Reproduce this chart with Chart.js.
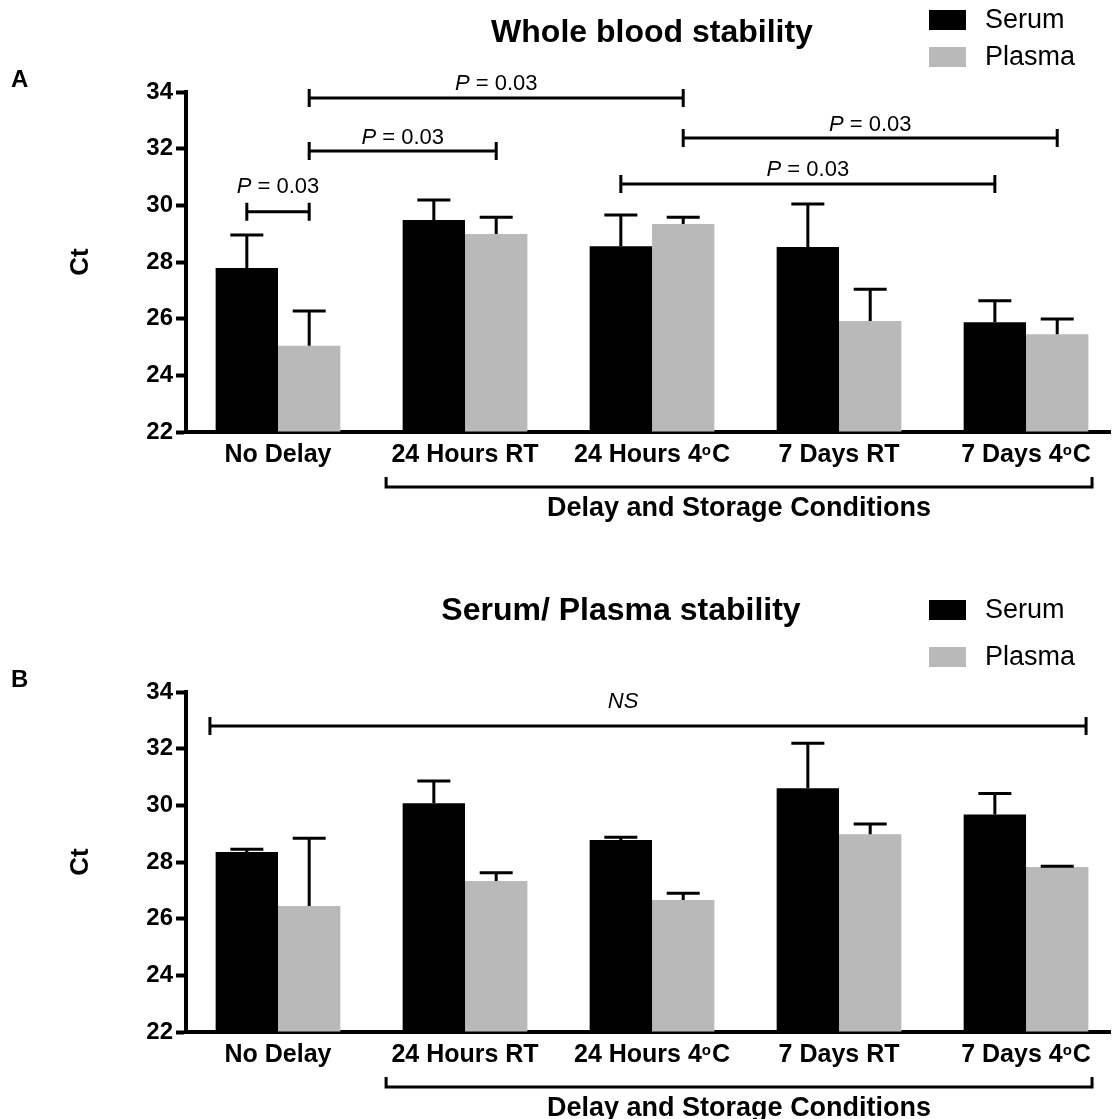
<!DOCTYPE html>
<html>
<head>
<meta charset="utf-8">
<title>Whole blood / serum-plasma stability</title>
<script src="https://cdn.jsdelivr.net/npm/chart.js@4.4.1/dist/chart.umd.min.js"></script>
<style>
  html, body { margin: 0; padding: 0; background: #fff; }
  canvas { position: absolute; left: 0; width: 1112px; }
  #panelA { top: 0; height: 560px; }
  #panelB { top: 570px; height: 549px; }
</style>
</head>
<body>
<canvas id="panelA" width="1112" height="560"></canvas>
<canvas id="panelB" width="1112" height="549"></canvas>
<script>
const CATEGORIES = ["No Delay", "24 Hours RT", "24 Hours 4°C", "7 Days RT", "7 Days 4°C"];
const SERIES = ["Serum", "Plasma"];
const Y_TICKS = [22, 24, 26, 28, 30, 32, 34];

// A: whole blood stability (mean Ct and upper error)
const WB_SERUM = [27.79, 29.48, 28.56, 28.53, 25.87];
const WB_SERUM_ERR = [1.16, 0.71, 1.10, 1.52, 0.76];
const WB_PLASMA = [25.04, 28.99, 29.34, 25.92, 25.45];
const WB_PLASMA_ERR = [1.23, 0.59, 0.24, 1.12, 0.54];

// B: serum / plasma stability
const SP_SERUM = [28.35, 30.07, 28.78, 30.60, 29.68];
const SP_SERUM_ERR = [0.10, 0.79, 0.09, 1.59, 0.74];
const SP_PLASMA = [26.45, 27.33, 26.66, 28.98, 27.82];
const SP_PLASMA_ERR = [2.39, 0.29, 0.24, 0.36, 0.03];

// comparison brackets: ends are [category, series] or an x value
const WB_BRACKETS = [
  { from: [0, 0], to: [0, 1], y: 29.77, text: "P", value: " = 0.03", gap: 19 },
  { from: [0, 1], to: [1, 1], y: 31.92, text: "P", value: " = 0.03", gap: 7 },
  { from: [0, 1], to: [2, 1], y: 33.79, text: "P", value: " = 0.03", gap: 8 },
  { from: [2, 1], to: [4, 1], y: 32.38, text: "P", value: " = 0.03", gap: 7 },
  { from: [2, 0], to: [4, 0], y: 30.75, text: "P", value: " = 0.03", gap: 8 },
];
const SP_BRACKETS = [
  { from: -0.364, to: 4.321, y: 32.8, text: "NS", value: "", gap: 18, textX: 1.845 },
];

const FONT = "'Liberation Sans', Arial, Helvetica, sans-serif";
const GREY = "#b9b9b9";

function font(size, weight, style) {
  return (style || "normal") + " " + (weight || "normal") + " " + size + "px " + FONT;
}

// label with the degree sign shown as a raised "o"
function drawTickLabel(ctx, text, cx, base) {
  const main = font(25, "bold"), sup = font(15, "bold");
  const parts = text.split("°");
  ctx.font = main;
  let w = ctx.measureText(parts[0]).width;
  let ws = 0, w2 = 0;
  if (parts.length > 1) {
    ctx.font = sup; ws = ctx.measureText("o").width + 1;
    ctx.font = main; w2 = ctx.measureText(parts[1]).width;
  }
  let x = cx - (w + ws + w2) / 2;
  ctx.textAlign = "left";
  ctx.textBaseline = "alphabetic";
  ctx.font = main; ctx.fillText(parts[0], x, base);
  if (parts.length > 1) {
    x += w;
    ctx.font = sup; ctx.fillText("o", x, base - 7);
    x += ws;
    ctx.font = main; ctx.fillText(parts[1], x, base);
  }
}

const decor = {
  id: "decor",
  afterDatasetsDraw(chart) {
    const ctx = chart.ctx, y = chart.scales.y;
    ctx.save();
    ctx.strokeStyle = "#000";
    ctx.lineWidth = 3;
    chart.data.datasets.forEach((ds, di) => {
      chart.getDatasetMeta(di).data.forEach((bar, i) => {
        const top = y.getPixelForValue(ds.data[i].y + ds.err[i]);
        ctx.beginPath();
        ctx.moveTo(bar.x, bar.y);
        ctx.lineTo(bar.x, top);
        ctx.moveTo(bar.x - 16.5, top);
        ctx.lineTo(bar.x + 16.5, top);
        ctx.stroke();
      });
    });
    ctx.restore();
  },
  afterDraw(chart, args, opts) {
    const ctx = chart.ctx, xs = chart.scales.x, ys = chart.scales.y;
    const dy = opts.dy;
    const px = (end) => Array.isArray(end)
      ? chart.getDatasetMeta(end[1]).data[end[0]].x
      : xs.getPixelForValue(end);
    ctx.save();
    ctx.fillStyle = "#000";
    ctx.strokeStyle = "#000";

    // panel letter, title, y title
    ctx.font = font(24, "bold");
    ctx.textAlign = "left";
    ctx.fillText(opts.letter, 11, 87 + dy);
    ctx.font = font(32, "bold");
    ctx.textAlign = "center";
    ctx.fillText(opts.title, opts.titleX, opts.titleY + dy);
    ctx.save();
    ctx.translate(81, 262 + dy);
    ctx.rotate(-Math.PI / 2);
    ctx.font = font(26, "bold");
    ctx.textBaseline = "middle";
    ctx.fillText("Ct", 0, 0);
    ctx.restore();

    // legend
    ctx.textBaseline = "middle";
    ctx.textAlign = "left";
    ctx.font = font(27);
    chart.data.datasets.forEach((ds, i) => {
      const top = opts.legendTop[i] + dy;
      ctx.fillStyle = ds.backgroundColor;
      ctx.fillRect(929, top, 37, 20);
      ctx.fillStyle = "#000";
      ctx.fillText(ds.label, 985, top + 11);
    });

    // category labels
    CATEGORIES.forEach((c, i) => drawTickLabel(ctx, c, xs.getPixelForValue(i), 462 + dy));

    // group bracket under the axis
    const gl = xs.getPixelForValue(0.578), gr = xs.getPixelForValue(4.353);
    ctx.lineWidth = 3;
    ctx.beginPath();
    ctx.moveTo(gl, 477 + dy); ctx.lineTo(gl, 487 + dy); ctx.lineTo(gr, 487 + dy); ctx.lineTo(gr, 477 + dy);
    ctx.stroke();
    ctx.font = font(27, "bold");
    ctx.textAlign = "center";
    ctx.textBaseline = "alphabetic";
    ctx.fillText("Delay and Storage Conditions", (gl + gr) / 2, 516 + dy);

    // comparison brackets
    opts.brackets.forEach(b => {
      const x1 = px(b.from), x2 = px(b.to), yy = ys.getPixelForValue(b.y);
      ctx.beginPath();
      ctx.moveTo(x1, yy - 9); ctx.lineTo(x1, yy + 9);
      ctx.moveTo(x1, yy); ctx.lineTo(x2, yy);
      ctx.moveTo(x2, yy - 9); ctx.lineTo(x2, yy + 9);
      ctx.stroke();
      const cx = b.textX !== undefined ? xs.getPixelForValue(b.textX) : (x1 + x2) / 2;
      ctx.font = font(22, "normal", "italic");
      const w1 = ctx.measureText(b.text).width;
      ctx.font = font(22);
      const w2 = ctx.measureText(b.value).width;
      const sx = cx - (w1 + w2) / 2;
      ctx.textAlign = "left";
      ctx.font = font(22, "normal", "italic");
      ctx.fillText(b.text, sx, yy - b.gap);
      ctx.font = font(22);
      ctx.fillText(b.value, sx + w1, yy - b.gap);
    });
    ctx.restore();
  },
};

function panel(id, serum, serumErr, plasma, plasmaErr, extra) {
  const pts = (arr) => arr.map((v, i) => ({ x: i, y: v }));
  const canvas = document.getElementById(id);
  const axisH = canvas.height - (432 + extra.dy);
  return new Chart(canvas, {
    type: "bar",
    data: {
      datasets: [
        { label: SERIES[0], data: pts(serum), err: serumErr, backgroundColor: "#000000" },
        { label: SERIES[1], data: pts(plasma), err: plasmaErr, backgroundColor: GREY },
      ],
    },
    options: {
      responsive: false,
      animation: false,
      datasets: { bar: { base: 22, categoryPercentage: 0.667, barPercentage: 1, borderWidth: 0 } },
      layout: { padding: { top: 92 + extra.dy, right: 2, left: 0, bottom: 0 } },
      plugins: {
        legend: { display: false },
        tooltip: { enabled: false },
        decor: extra,
      },
      scales: {
        x: {
          type: "linear",
          min: -0.492,
          max: 4.449,
          offset: false,
          z: 1,
          ticks: { display: false, stepSize: 1, includeBounds: false },
          grid: { drawOnChartArea: false, drawTicks: false, offset: false, color: "rgba(0,0,0,0)" },
          border: { display: true, color: "#000", width: 4 },
          afterFit: (s) => { s.height = axisH; },
        },
        y: {
          min: 22,
          max: 34,
          z: 1,
          afterBuildTicks: (s) => { s.ticks = Y_TICKS.map(v => ({ value: v })); },
          ticks: { color: "#000", padding: 3, font: { family: FONT, size: 24, weight: "bold" } },
          grid: { drawOnChartArea: false, drawTicks: true, tickLength: 10, tickWidth: 4, tickColor: "#000" },
          border: { display: true, color: "#000", width: 4 },
          afterFit: (s) => { s.width = 186; },
        },
      },
    },
    plugins: [decor],
  });
}

panel("panelA", WB_SERUM, WB_SERUM_ERR, WB_PLASMA, WB_PLASMA_ERR, {
  dy: 0, letter: "A", title: "Whole blood stability", titleX: 652, titleY: 42,
  legendTop: [10, 47], brackets: WB_BRACKETS,
});
panel("panelB", SP_SERUM, SP_SERUM_ERR, SP_PLASMA, SP_PLASMA_ERR, {
  dy: 30, letter: "B", title: "Serum/ Plasma stability", titleX: 621, titleY: 20,
  legendTop: [0, 47], brackets: SP_BRACKETS,
});
</script>
</body>
</html>
